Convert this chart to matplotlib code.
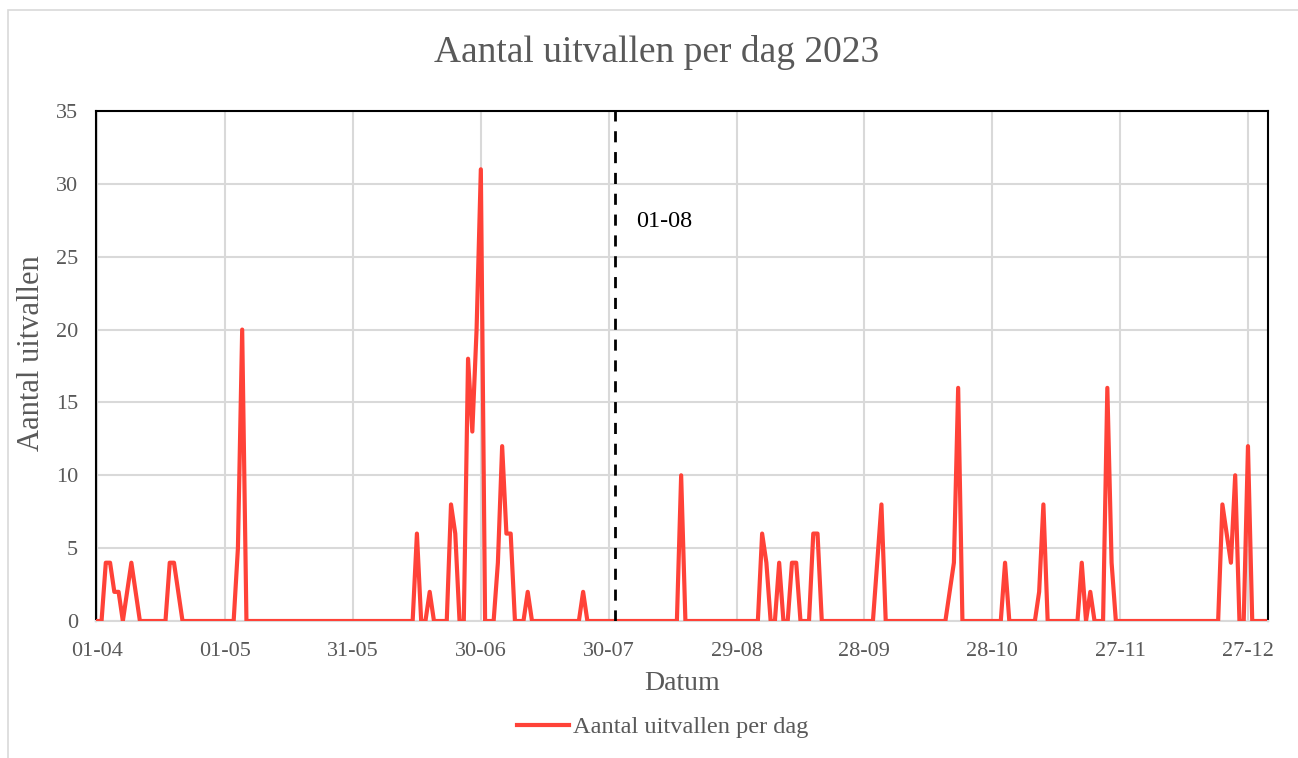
import matplotlib
matplotlib.use("Agg")
import matplotlib.pyplot as plt
from matplotlib.patches import Rectangle
import numpy as np

# ---- data ----
n_days = 275  # 01-04 .. 31-12
peak_days = [2, 3, 4, 5, 7, 8, 9, 17, 18, 19, 33, 34,
             75, 78, 83, 84, 87, 88, 89, 90, 94, 95, 96, 97, 101, 114,
             137, 156, 157, 160, 163, 164, 168, 169,
             183, 184, 200, 201, 202, 213, 221, 222, 231, 233, 237, 238,
             264, 265, 266, 267, 270]
peak_values = [4, 4, 2, 2, 2, 4, 2, 4, 4, 2, 5, 20,
               6, 2, 8, 6, 18, 13, 20, 31, 4, 12, 6, 6, 2, 2,
               10, 6, 4, 4, 4, 4, 6, 6,
               4, 8, 2, 4, 16, 4, 2, 8, 4, 2, 16, 4,
               8, 6, 4, 10, 12]
tick_days = [0, 30, 60, 90, 120, 150, 180, 210, 240, 270]
tick_labels = ["01-04", "01-05", "31-05", "30-06", "30-07",
               "29-08", "28-09", "28-10", "27-11", "27-12"]
marker_day = 121.5
marker_label = "01-08"
series_name = "Aantal uitvallen per dag"

days = np.arange(n_days)
values = np.zeros(n_days)
values[peak_days] = peak_values

FONT = "Liberation Serif"
GREY = "#595959"
plt.rcParams["font.family"] = [FONT, "DejaVu Serif"]

fig = plt.figure(figsize=(12.98, 7.58), dpi=100)
# outer chart border (left & top visible)
fig.patches.append(Rectangle((8 / 1298, -0.05), 1.2, (758 - 10) / 758 + 0.05,
                             transform=fig.transFigure, fill=False,
                             edgecolor="#d9d9d9", lw=1.2))

ax = fig.add_axes([96 / 1298, (758 - 621) / 758, (1268 - 96) / 1298, (621 - 111) / 758])
ax.plot(days, values, color="#FF4238", lw=3, solid_joinstyle="round",
        label=series_name, zorder=3)
ax.axvline(marker_day, color="black", lw=2, ls=(0, (4, 3.5)), zorder=4)
ax.text(marker_day + 5.0, 27.4, marker_label, fontsize=17.5, color="black",
        va="center", ha="left")

ax.set_xlim(-0.3, n_days - 0.3)
ax.set_ylim(0, 35)
ax.set_xticks(tick_days)
ax.set_xticklabels(tick_labels)
ax.set_yticks(np.arange(0, 36, 5))
ax.grid(True, color="#d9d9d9", lw=1.5, zorder=0)
ax.set_axisbelow(True)
ax.tick_params(length=0, labelsize=16, colors=GREY)
ax.tick_params(axis="x", pad=15)
ax.tick_params(axis="y", pad=13)
for s in ["top", "left", "right"]:
    ax.spines[s].set_color("black")
    ax.spines[s].set_linewidth(1.5)
ax.spines["bottom"].set_color("#d9d9d9")
ax.spines["bottom"].set_linewidth(1.5)

ax.set_xlabel("Datum", fontsize=20, color=GREY, labelpad=7)
ax.set_ylabel("Aantal uitvallen", fontsize=22, color=GREY, va="center")
ax.yaxis.set_label_coords((31 - 96) / 1172, 0.525)
fig.text(657 / 1298, 1 - 52 / 758, "Aantal uitvallen per dag 2023", fontsize=27,
         color=GREY, ha="center", va="center")

leg = fig.legend(loc="center", bbox_to_anchor=(663 / 1298, 1 - 727 / 758),
                 frameon=False, fontsize=17.6, handlelength=2.1, handletextpad=0.2)
for t in leg.get_texts():
    t.set_color(GREY)

fig.savefig("out.png", dpi=100)
